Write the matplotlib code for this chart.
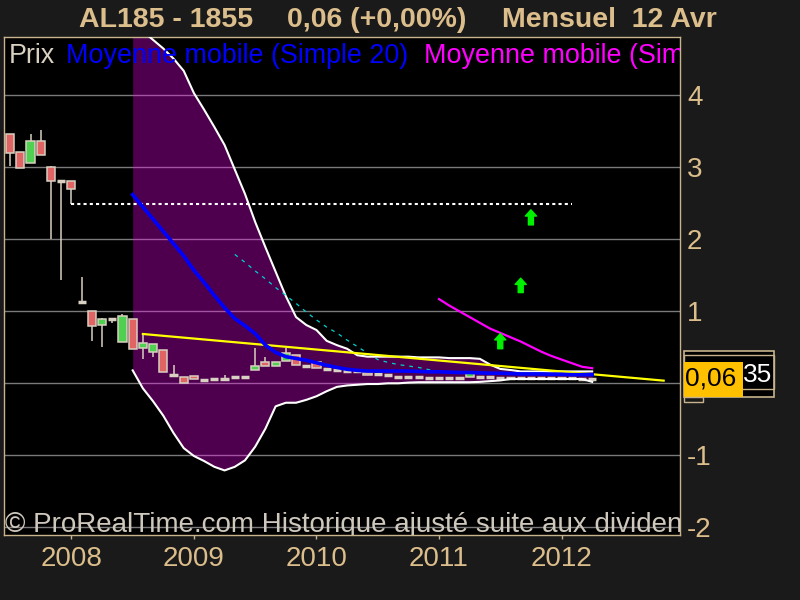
import numpy as np
import matplotlib
matplotlib.use("Agg")
import matplotlib.pyplot as plt
from matplotlib.patches import Rectangle

plt.rcParams["font.family"] = ["Liberation Sans", "DejaVu Sans"]

BG = "#1a1a1a"
TAN = "#dcbe8c"
FRAME = "#c8b48c"
BEIGE = "#d8d0c0"
RED = "#e06464"
GREEN = "#50d050"

# month index, 0 = Jan 2008 (Jul 2007 .. Apr 2012)
months = np.arange(-6, 52)
opens = [3.46, 3.21, 3.06, 3.36, 3.00, 2.81, 2.81, 1.13, 1.00, 0.81, 0.89, 0.58,
         0.89, 0.49, 0.44, 0.46, 0.11, 0.09, 0.10, 0.04, 0.06, 0.065, 0.09, 0.09,
         0.19, 0.29, 0.24, 0.31, 0.39, 0.24, 0.29, 0.195, 0.185, 0.175, 0.165, 0.15,
         0.125, 0.12, 0.09, 0.09, 0.085, 0.08, 0.08, 0.08, 0.08, 0.09, 0.083, 0.083,
         0.08, 0.08, 0.08, 0.08, 0.078, 0.075, 0.07, 0.07, 0.065, 0.06]
highs = [3.46, 3.21, 3.46, 3.52, 3.02, 2.81, 2.81, 1.48, 1.00, 0.91, 0.89, 0.96,
         0.89, 0.69, 0.55, 0.46, 0.25, 0.09, 0.10, 0.05, 0.07, 0.12, 0.09, 0.09,
         0.49, 0.37, 0.30, 0.49, 0.39, 0.24, 0.29, 0.195, 0.185, 0.175, 0.165, 0.15,
         0.125, 0.12, 0.09, 0.09, 0.085, 0.08, 0.08, 0.08, 0.08, 0.16, 0.083, 0.083,
         0.08, 0.08, 0.08, 0.08, 0.078, 0.075, 0.07, 0.07, 0.065, 0.06]
lows = [3.02, 2.99, 3.06, 3.17, 2.01, 1.44, 2.49, 1.13, 0.59, 0.51, 0.84, 0.58,
        0.48, 0.34, 0.36, 0.16, 0.11, 0.01, 0.06, 0.03, 0.06, 0.04, 0.09, 0.09,
        0.19, 0.245, 0.24, 0.31, 0.25, 0.24, 0.21, 0.195, 0.185, 0.175, 0.165, 0.11,
        0.125, 0.12, 0.09, 0.09, 0.085, 0.08, 0.08, 0.08, 0.08, 0.09, 0.083, 0.083,
        0.08, 0.08, 0.08, 0.08, 0.078, 0.075, 0.07, 0.07, 0.065, 0.06]
closes = [3.20, 2.99, 3.36, 3.17, 2.81, 2.81, 2.70, 1.13, 0.80, 0.89, 0.89, 0.93,
          0.48, 0.56, 0.55, 0.16, 0.11, 0.01, 0.06, 0.04, 0.06, 0.065, 0.09, 0.09,
          0.24, 0.245, 0.30, 0.42, 0.25, 0.24, 0.21, 0.195, 0.185, 0.175, 0.165, 0.11,
          0.125, 0.12, 0.09, 0.09, 0.085, 0.08, 0.08, 0.08, 0.08, 0.14, 0.083, 0.083,
          0.08, 0.08, 0.08, 0.08, 0.078, 0.075, 0.07, 0.07, 0.065, 0.06]

# Bollinger bands + simple MA 20 (Jul 2008 .. Apr 2012)
band_m = np.arange(6, 52)
band_upper = [5.10, 4.89, 4.77, 4.65, 4.51, 4.34, 4.03, 3.80, 3.56, 3.31, 2.97, 2.63,
              2.24, 1.89, 1.55, 1.21, 0.92, 0.81, 0.74, 0.59, 0.53, 0.48, 0.39, 0.37,
              0.37, 0.37, 0.37, 0.37, 0.36, 0.36, 0.36, 0.35, 0.35, 0.35, 0.34, 0.26,
              0.20, 0.185, 0.165, 0.165, 0.165, 0.165, 0.165, 0.165, 0.165, 0.165]
band_lower = [0.18, -0.07, -0.25, -0.45, -0.69, -0.90, -1.01, -1.08, -1.16, -1.21, -1.16, -1.07,
              -0.88, -0.63, -0.32, -0.27, -0.27, -0.23, -0.18, -0.11, -0.05, -0.03, -0.02, -0.01,
              -0.01, 0.0, 0.0, 0.01, 0.015, 0.015, 0.015, 0.015, 0.015, 0.015, 0.02, 0.03,
              0.04, 0.06, 0.06, 0.06, 0.06, 0.06, 0.06, 0.06, 0.06, 0.02]
ma20 = [2.62, 2.45, 2.28, 2.11, 1.94, 1.77, 1.57, 1.40, 1.22, 1.05, 0.90, 0.80,
        0.69, 0.53, 0.43, 0.37, 0.345, 0.32, 0.285, 0.25, 0.22, 0.195, 0.18, 0.17,
        0.17, 0.17, 0.17, 0.17, 0.165, 0.16, 0.16, 0.155, 0.15, 0.15, 0.145, 0.14,
        0.14, 0.135, 0.13, 0.13, 0.13, 0.125, 0.125, 0.12, 0.12, 0.12]

# second moving average (magenta), Jan 2011 .. Apr 2012
slow_m = np.arange(36, 52)
ma_slow = [1.17, 1.08, 1.00, 0.92, 0.84, 0.76, 0.70, 0.64, 0.58, 0.51, 0.44, 0.38,
           0.33, 0.28, 0.23, 0.21]

# thin cyan dashed average, May 2009 .. Apr 2012
cyan_m = np.arange(16, 52)
cyan_v = [1.79, 1.68, 1.56, 1.45, 1.33, 1.22, 1.11, 0.99, 0.88, 0.78, 0.70, 0.60,
          0.51, 0.42, 0.33, 0.29, 0.26, 0.24, 0.22, 0.19, 0.16, 0.15, 0.14, 0.14,
          0.14, 0.14, 0.14, 0.14, 0.14, 0.14, 0.14, 0.14, 0.14, 0.14, 0.14, 0.14]

# drawn objects
trend_m = [7, 58]
trend_v = [0.685, 0.037]
resist_m = [0, 49]
resist_v = 2.49
arrow_m = [42, 44, 45]
arrow_lo = [0.48, 1.26, 2.20]
arrow_hi = [0.69, 1.46, 2.41]

year_ticks = [0, 12, 24, 36, 48]
year_labels = ["2008", "2009", "2010", "2011", "2012"]
price_ticks = [4, 3, 2, 1, 0, -1, -2]
price_labels = ["4", "3", "2", "1", "", "-1", "-2"]

title_parts = ["AL185 - 1855", "0,06 (+0,00%)", "Mensuel  12 Avr"]
title_x = [79, 287, 502]

fig = plt.figure(figsize=(8, 6), dpi=100, facecolor=BG)
ax = fig.add_axes([4 / 800, 65 / 600, 676 / 800, 498 / 600])
ax.set_facecolor("black")
ax.set_xlim(-6.6, 59.6)
ax.set_ylim(-2.107, 4.81)

ax.yaxis.tick_right()
ax.set_yticks(price_ticks)
ax.set_yticklabels(price_labels)
ax.set_xticks(year_ticks)
ax.set_xticklabels(year_labels)
ax.grid(True, axis="y", color="#7a7a7a", lw=1)
ax.set_axisbelow(True)
ax.tick_params(axis="y", length=0, pad=5, labelsize=20, labelcolor=TAN)
ax.tick_params(axis="x", length=3, width=1, color=FRAME, pad=5, labelsize=20, labelcolor=TAN)
for sp in ax.spines.values():
    sp.set_color(FRAME)
    sp.set_linewidth(1)

# Bollinger band
ax.fill_between(band_m, band_lower, band_upper, color="#ff00ff", alpha=0.31, lw=0, zorder=1)

# candles
body_w = 0.8
for m, o, h, l, c in zip(months, opens, highs, lows, closes):
    ax.vlines(m, l, h, colors=BEIGE, lw=1.1, zorder=2)
    if abs(c - o) < 0.02:
        ax.hlines(c, m - body_w / 2, m + body_w / 2, colors=BEIGE, lw=2.5, zorder=2)
    else:
        face = GREEN if c > o else RED
        ax.add_patch(Rectangle((m - body_w / 2, min(o, c)), body_w, abs(c - o),
                               facecolor=face, edgecolor=BEIGE, lw=1.1, zorder=2))

ax.plot(band_m, band_upper, color="white", lw=1.5, zorder=3)
ax.plot(band_m, band_lower, color="white", lw=1.5, zorder=3)
ax.plot(cyan_m, cyan_v, color="#00d0d0", lw=0.9, ls=(0, (3, 4)), zorder=3)
ax.plot(trend_m, trend_v, color="#ffff00", lw=1.6, zorder=4)
ax.plot(band_m, ma20, color="#0000ff", lw=2.6, zorder=5)
ax.plot(slow_m, ma_slow, color="#ff00ff", lw=1.6, zorder=5)
ax.hlines(resist_v, resist_m[0], resist_m[1], colors="white", lw=1.5,
          linestyles=(0, (1.5, 1.5)), zorder=4)

for m, lo, hi in zip(arrow_m, arrow_lo, arrow_hi):
    ax.annotate("", xy=(m, hi), xytext=(m, lo),
                arrowprops=dict(arrowstyle="simple,head_width=0.8,head_length=0.45,tail_width=0.36",
                                color="#00f000", shrinkA=0, shrinkB=0), zorder=6)

# legend line at top of the plot, clipped by the frame
ax.text(0.0074, 0.947, "Prix", color=BEIGE, fontsize=19.4, transform=ax.transAxes,
        va="baseline", clip_on=True, zorder=7)
ax.text(0.0922, 0.947, "Moyenne mobile (Simple 20)", color="#0000ff", fontsize=19.4,
        transform=ax.transAxes, va="baseline", clip_on=True, zorder=7)
ax.text(0.622, 0.947, "Moyenne mobile (Simple 50)", color="#ff00ff", fontsize=19.4,
        transform=ax.transAxes, va="baseline", clip_on=True, zorder=7)
ax.text(0.0015, 0.0054, "\u00a9 ProRealTime.com Historique ajust\u00e9 suite aux dividendes",
        color="#cfc8bc", fontsize=20, transform=ax.transAxes, va="baseline",
        clip_on=True, zorder=7)

for part, x in zip(title_parts, title_x):
    fig.text(x / 800, 1 - 27.3 / 600, part, color=TAN, fontsize=20.5,
             fontweight="bold", ha="left", va="baseline")

# last price tag on the right axis, anchored on the last close
yc = ax.transData.transform((0, closes[-1]))[1]  # pixels from bottom


def tag_rect(x0, x1, dy0, dy1, **kw):
    r = Rectangle((x0 / 800, (yc + dy0) / 600), (x1 - x0) / 800, (dy1 - dy0) / 600,
                  transform=fig.transFigure, **kw)
    fig.add_artist(r)


tag_rect(684, 774, -18, 28, facecolor="black", edgecolor=FRAME, lw=1.2)
tag_rect(684, 774, -10, 24, facecolor="none", edgecolor=FRAME, lw=1)
tag_rect(684, 743, -18, 17, facecolor="#ffc000", edgecolor="none")
tag_rect(684, 703, -23, -18, facecolor="none", edgecolor=FRAME, lw=1)
fig.text(685 / 800, (yc - 7) / 600, "0,06", color="black", fontsize=19, va="baseline")
fig.text(743 / 800, (yc - 3) / 600, "35", color="white", fontsize=19, va="baseline")

fig.savefig("out.png", dpi=100, facecolor=BG)
